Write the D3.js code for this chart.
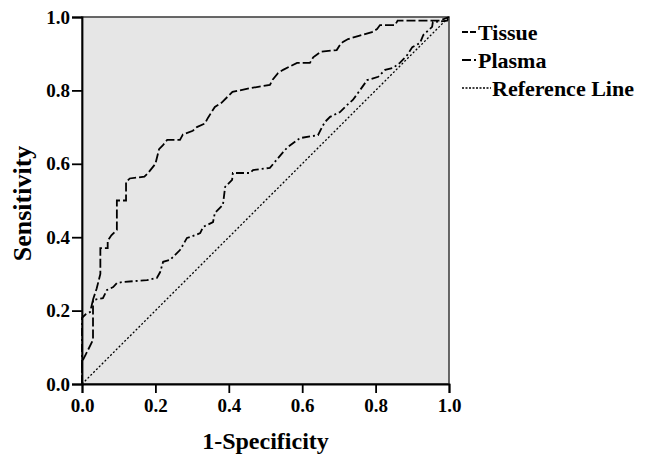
<!DOCTYPE html>
<html>
<head>
<meta charset="utf-8">
<script src="https://cdn.jsdelivr.net/npm/d3@7"></script>
<style>
  body { margin: 0; background: #fff; }
  text { font-family: "Liberation Serif", "Times New Roman", serif; font-weight: bold; fill: #000; }
</style>
</head>
<body>
<div id="chart"></div>
<script>
// ROC curve points: [1-specificity, sensitivity]
var tissue = [
  [0,0],[0,0.06],[0.01,0.08],[0.03,0.12],[0.03,0.23],[0.04,0.26],[0.05,0.30],[0.05,0.37],
  [0.07,0.37],[0.07,0.39],[0.08,0.405],[0.095,0.42],[0.095,0.50],[0.12,0.50],[0.12,0.55],
  [0.13,0.56],[0.17,0.565],[0.18,0.575],[0.20,0.60],[0.21,0.64],[0.22,0.65],[0.232,0.665],
  [0.267,0.665],[0.275,0.68],[0.302,0.69],[0.313,0.70],[0.335,0.71],[0.343,0.725],[0.362,0.755],
  [0.38,0.766],[0.41,0.796],[0.458,0.806],[0.512,0.815],[0.52,0.83],[0.534,0.847],[0.548,0.856],
  [0.586,0.875],[0.621,0.875],[0.63,0.89],[0.65,0.905],[0.694,0.91],[0.703,0.924],[0.711,0.932],
  [0.725,0.94],[0.752,0.948],[0.79,0.959],[0.804,0.967],[0.812,0.978],[0.853,0.978],[0.86,0.99],
  [0.975,0.99],[1,1]
];
var plasma = [
  [0,0],[0,0.18],[0.01,0.19],[0.022,0.196],[0.03,0.229],[0.057,0.234],[0.068,0.256],[0.085,0.264],
  [0.095,0.275],[0.112,0.278],[0.177,0.283],[0.204,0.289],[0.213,0.305],[0.221,0.333],[0.24,0.338],
  [0.248,0.346],[0.267,0.365],[0.272,0.373],[0.286,0.398],[0.294,0.40],[0.322,0.411],[0.33,0.428],
  [0.357,0.441],[0.362,0.466],[0.384,0.488],[0.39,0.537],[0.409,0.556],[0.411,0.575],[0.458,0.575],
  [0.466,0.583],[0.512,0.589],[0.548,0.632],[0.56,0.645],[0.594,0.67],[0.643,0.678],[0.654,0.70],
  [0.662,0.714],[0.676,0.728],[0.703,0.741],[0.722,0.760],[0.738,0.774],[0.752,0.793],[0.777,0.828],
  [0.807,0.837],[0.826,0.856],[0.847,0.861],[0.866,0.875],[0.886,0.896],[0.9,0.918],[0.921,0.929],
  [0.93,0.951],[0.954,0.973],[0.956,0.986],[0.995,0.99],[1,1]
];
var reference = [[0,0],[1,1]];
var tickValues = [0, 0.2, 0.4, 0.6, 0.8, 1.0];
var legendNames = ["Tissue", "Plasma", "Reference Line"];

var width = 652, height = 455;
var mLeft = 82, mRight = 449, mTop = 17, mBottom = 384;

var svg = d3.select("#chart").append("svg")
  .attr("width", width)
  .attr("height", height);

var x = d3.scaleLinear().domain([0, 1]).range([mLeft, mRight]);
var y = d3.scaleLinear().domain([0, 1]).range([mBottom, mTop]);

// plot background
svg.append("rect")
  .attr("x", mLeft).attr("y", mTop)
  .attr("width", mRight - mLeft).attr("height", mBottom - mTop)
  .attr("fill", "#e6e6e6")
  .attr("stroke", "#444")
  .attr("stroke-width", 1.6);

var line = d3.line().x(function(d) { return x(d[0]); }).y(function(d) { return y(d[1]); });

var styles = [
  { data: tissue, dash: "9,3", width: 1.8, legendDash: "6,2", legendLen: 15 },
  { data: plasma, dash: "8,3,2,3", width: 1.8, legendDash: "9,3,2,20", legendLen: 15 },
  { data: reference, dash: "2,2", width: 1.3, legendDash: "2,1.5", legendLen: 29 }
];

styles.forEach(function(s) {
  svg.append("path")
    .attr("d", line(s.data))
    .attr("fill", "none")
    .attr("stroke", "#000")
    .attr("stroke-width", s.width)
    .attr("stroke-dasharray", s.dash);
});

// axes
var xAxis = d3.axisBottom(x).tickValues(tickValues).tickFormat(d3.format(".1f")).tickSizeOuter(0).tickSize(9).tickPadding(6);
var yAxis = d3.axisLeft(y).tickValues(tickValues).tickFormat(d3.format(".1f")).tickSizeOuter(0).tickSize(10).tickPadding(2);

var gx = svg.append("g").attr("transform", "translate(0," + mBottom + ")").call(xAxis);
var gy = svg.append("g").attr("transform", "translate(" + mLeft + ",0)").call(yAxis);

[gx, gy].forEach(function(g) {
  g.attr("font-family", null).attr("font-size", null);
  g.select(".domain").attr("stroke", "#000").attr("stroke-width", 1.8);
  g.selectAll(".tick line").attr("stroke", "#000").attr("stroke-width", 1.8);
  g.selectAll(".tick text")
    .style("font-size", "19px")
    .attr("fill", "#000");
});

// axis titles
svg.append("text")
  .attr("x", (mLeft + mRight) / 2).attr("y", 449)
  .attr("text-anchor", "middle")
  .style("font-size", "24px")
  .text("1-Specificity");

svg.append("text")
  .attr("transform", "translate(31," + ((mTop + mBottom) / 2 + 3) + ") rotate(-90)")
  .attr("text-anchor", "middle")
  .style("font-size", "26px")
  .text("Sensitivity");

// legend
var legend = svg.append("g").attr("transform", "translate(462,0)");
legendNames.forEach(function(name, i) {
  var ly = 32 + i * 28;
  legend.append("line")
    .attr("x1", 0).attr("x2", styles[i].legendLen)
    .attr("y1", ly).attr("y2", ly)
    .attr("stroke", "#000")
    .attr("stroke-width", styles[i].width)
    .attr("stroke-dasharray", styles[i].legendDash);
  legend.append("text")
    .attr("x", styles[i].legendLen + 1).attr("y", ly + 8)
    .style("font-size", "22px")
    .text(name);
});
</script>
</body>
</html>
